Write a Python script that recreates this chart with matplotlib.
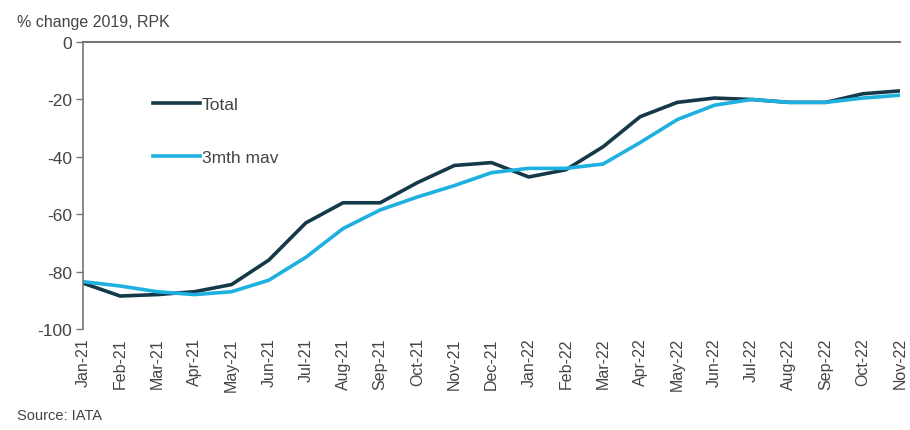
import matplotlib
matplotlib.use("Agg")
import matplotlib.pyplot as plt

plt.rcParams['font.family'] = ['Liberation Sans', 'DejaVu Sans']
plt.rcParams['axes.unicode_minus'] = False

months = ["Jan-21", "Feb-21", "Mar-21", "Apr-21", "May-21", "Jun-21", "Jul-21",
          "Aug-21", "Sep-21", "Oct-21", "Nov-21", "Dec-21", "Jan-22", "Feb-22",
          "Mar-22", "Apr-22", "May-22", "Jun-22", "Jul-22", "Aug-22", "Sep-22",
          "Oct-22", "Nov-22"]
total = [-84, -88.5, -88, -87, -84.5, -76, -63, -56, -56, -49, -43, -42, -47,
         -44.5, -36.5, -26, -21, -19.5, -20, -21, -21, -18, -17]
mav3 = [-83.5, -85, -87, -88, -87, -83, -75, -65, -58.5, -54, -50, -45.5, -44,
        -44, -42.5, -35, -27, -22, -20, -21, -21, -19.5, -18.5]

dark = "#16394a"
light = "#1eb0de"

fig = plt.figure(figsize=(9.1, 4.31), dpi=100)
ax = fig.add_axes([0.0912, 0.2343, 0.898, 0.6657])

x = list(range(len(months)))
ax.plot(x, total, color=dark, lw=2.6, label="Total", solid_joinstyle="round")
ax.plot(x, mav3, color=light, lw=2.6, label="3mth mav", solid_joinstyle="round")

ax.set_xlim(0, len(months) - 1)
ax.set_ylim(-100, 0)
ax.set_yticks([0, -20, -40, -60, -80, -100])
ax.set_xticks(x)
ax.set_xticklabels(months, rotation=90, fontsize=11.5, color="#444444")
ax.tick_params(axis="x", length=0, pad=6)
ax.tick_params(axis="y", length=5, width=1, color="#777777", labelsize=12.5,
               labelcolor="#444444", pad=3)

for s in ["right", "bottom"]:
    ax.spines[s].set_visible(False)
ax.spines["left"].set_color("#777777")
ax.spines["left"].set_linewidth(1.2)
ax.spines["top"].set_color("#777777")
ax.spines["top"].set_linewidth(1.5)

leg = ax.legend(loc="upper left", bbox_to_anchor=(0.0857, 0.81), frameon=False,
                fontsize=12.5, handlelength=2.7, handletextpad=0.1,
                labelspacing=2.2, borderaxespad=0, borderpad=0)
for t in leg.get_texts():
    t.set_color("#444444")

fig.text(17 / 910, 1 - 22 / 431, "% change 2019, RPK", fontsize=11.5,
         color="#444444", va="center", ha="left")
fig.text(17 / 910, 1 - 416 / 431, "Source: IATA", fontsize=10.5,
         color="#444444", va="center", ha="left")

fig.savefig("out.png", dpi=100)
